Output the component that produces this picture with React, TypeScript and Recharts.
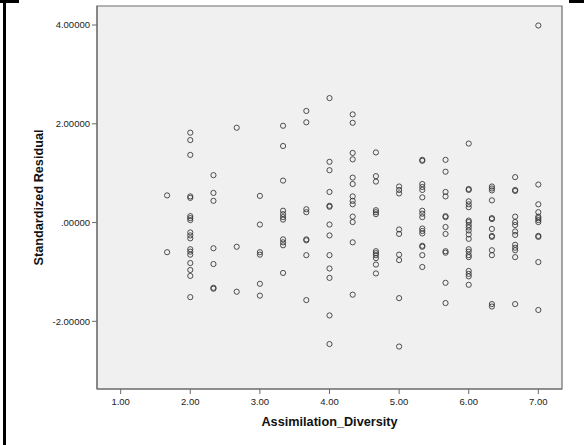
import {
  ScatterChart,
  Scatter,
  XAxis,
  YAxis,
  CartesianGrid,
  ReferenceArea,
  Label,
} from 'recharts';

// Assimilation_Diversity levels (thirds between 1 and 7)
const levels = [1.667, 2, 2.333, 2.667, 3, 3.333, 3.667, 4, 4.333, 4.667, 5, 5.333, 5.667, 6, 6.333, 6.667, 7];

// Standardized residuals observed at each level, same order as `levels`
const residuals: number[][] = [
  [0.55, -0.6],
  [1.82, 1.67, 1.37, 0.53, 0.5, 0.13, 0.09, 0.05, -0.2, -0.26, -0.32, -0.54, -0.59, -0.65, -0.82, -0.96, -1.08, -1.51],
  [0.96, 0.6, 0.44, -0.52, -0.84, -1.32, -1.34],
  [1.92, -0.49, -1.4],
  [0.54, -0.04, -0.6, -0.65, -1.24, -1.48],
  [1.96, 1.55, 0.85, 0.24, 0.17, 0.11, 0.06, -0.34, -0.4, -0.46, -1.02],
  [2.26, 2.03, 0.27, 0.21, -0.34, -0.36, -0.66, -1.57],
  [2.52, 1.23, 1.06, 0.62, 0.34, 0.32, -0.04, -0.26, -0.66, -0.93, -1.12, -1.88, -2.46],
  [2.19, 2.02, 1.41, 1.28, 0.91, 0.78, 0.53, 0.44, 0.37, 0.12, 0.01, -0.4, -1.46],
  [1.42, 0.94, 0.83, 0.25, 0.21, 0.17, -0.58, -0.62, -0.66, -0.72, -0.85, -1.03],
  [0.73, 0.66, 0.59, -0.14, -0.23, -0.65, -0.76, -1.53, -2.51],
  [1.27, 1.25, 0.78, 0.72, 0.66, 0.51, 0.24, 0.18, 0.11, -0.12, -0.17, -0.22, -0.47, -0.49, -0.66, -0.9],
  [1.27, 1.03, 0.62, 0.53, 0.13, 0.11, -0.09, -0.23, -0.58, -0.61, -1.22, -1.63],
  [1.6, 0.68, 0.66, 0.43, 0.37, 0.31, 0.04, 0.01, -0.05, -0.1, -0.16, -0.24, -0.33, -0.54, -0.59, -0.66, -0.7, -0.98, -1.04, -1.09, -1.26],
  [0.73, 0.69, 0.65, 0.45, 0.09, 0.07, -0.13, -0.27, -0.29, -0.56, -0.66, -1.65, -1.7],
  [0.92, 0.66, 0.64, 0.12, 0.01, -0.05, -0.18, -0.25, -0.45, -0.51, -0.56, -0.7, -1.65],
  [3.99, 0.77, 0.37, 0.21, 0.12, 0.09, 0.05, 0.01, -0.27, -0.29, -0.8, -1.77],
];

const xTicks = [1, 2, 3, 4, 5, 6, 7];
const yTicks = [-2, 0, 2, 4];

const xDomain: [number, number] = [0.66, 7.34];
const yDomain: [number, number] = [-3.37, 4.385];

const points = levels.flatMap((x, i) => residuals[i].map((y) => ({ x, y })));

const FONT = '"Liberation Sans", Arial, sans-serif';
const AXIS = '#6b6b6b';

const fmtY = (v: number) => (v === 0 ? '.00000' : v.toFixed(5));

const Ring = (props: any) => (
  <circle cx={props.cx} cy={props.cy} r={2.6} fill="none" stroke="#333" strokeOpacity={0.85} strokeWidth={1} />
);

const YTitle = (props: any) => {
  const vb = props.viewBox || { x: 0, y: 0, height: 0 };
  const cx = vb.x + 39;
  const cy = vb.y + vb.height / 2;
  return (
    <text
      x={cx}
      y={cy}
      transform={`rotate(-90, ${cx}, ${cy})`}
      textAnchor="middle"
      dominantBaseline="central"
      fontFamily={FONT}
      fontWeight="bold"
      fontSize={12.7}
      fill="#111"
    >
      Standardized Residual
    </text>
  );
};

const XTitle = (props: any) => {
  const vb = props.viewBox || { x: 0, y: 0, width: 0 };
  return (
    <text
      x={vb.x + vb.width / 2}
      y={vb.y + 33}
      textAnchor="middle"
      dominantBaseline="central"
      fontFamily={FONT}
      fontWeight="bold"
      fontSize={12.7}
      fill="#111"
    >
      Assimilation_Diversity
    </text>
  );
};

export default function App() {
  return (
    <div style={{ position: 'absolute', top: 0, left: 0, width: 584, height: 445, background: '#fff' }}>
      <ScatterChart width={584} height={445} margin={{ top: 6, right: 22, bottom: 0, left: 0 }}>
        <CartesianGrid horizontal={false} vertical={false} fill="#f0f0f0" />
        <XAxis
          type="number"
          dataKey="x"
          domain={xDomain}
          ticks={xTicks}
          tickFormatter={(v: number) => v.toFixed(2)}
          allowDataOverflow
          height={56}
          tickSize={5}
          tickMargin={4}
          stroke={AXIS}
          tick={{ fontSize: 9.5, fill: '#222', fontFamily: FONT }}
        >
          <Label content={XTitle} />
        </XAxis>
        <YAxis
          type="number"
          dataKey="y"
          domain={yDomain}
          ticks={yTicks}
          tickFormatter={fmtY}
          allowDataOverflow
          width={97}
          tickSize={5}
          tickMargin={2}
          stroke={AXIS}
          tick={{ fontSize: 9.5, fill: '#222', fontFamily: FONT }}
        >
          <Label content={YTitle} />
        </YAxis>
        <ReferenceArea
          x1={xDomain[0]}
          x2={xDomain[1]}
          y1={yDomain[0]}
          y2={yDomain[1]}
          fill="none"
          stroke={AXIS}
          strokeWidth={1.2}
          ifOverflow="visible"
        />
        <Scatter data={points} shape={Ring} isAnimationActive={false} />
      </ScatterChart>
      {/* output frame edges */}
      <div style={{ position: 'absolute', left: 3, top: 0, width: 3, height: 445, background: '#000' }} />
      <div style={{ position: 'absolute', left: 0, top: 0, width: 19, height: 3, background: '#000' }} />
      <div style={{ position: 'absolute', left: 569, top: 0, width: 15, height: 3, background: '#000' }} />
    </div>
  );
}
